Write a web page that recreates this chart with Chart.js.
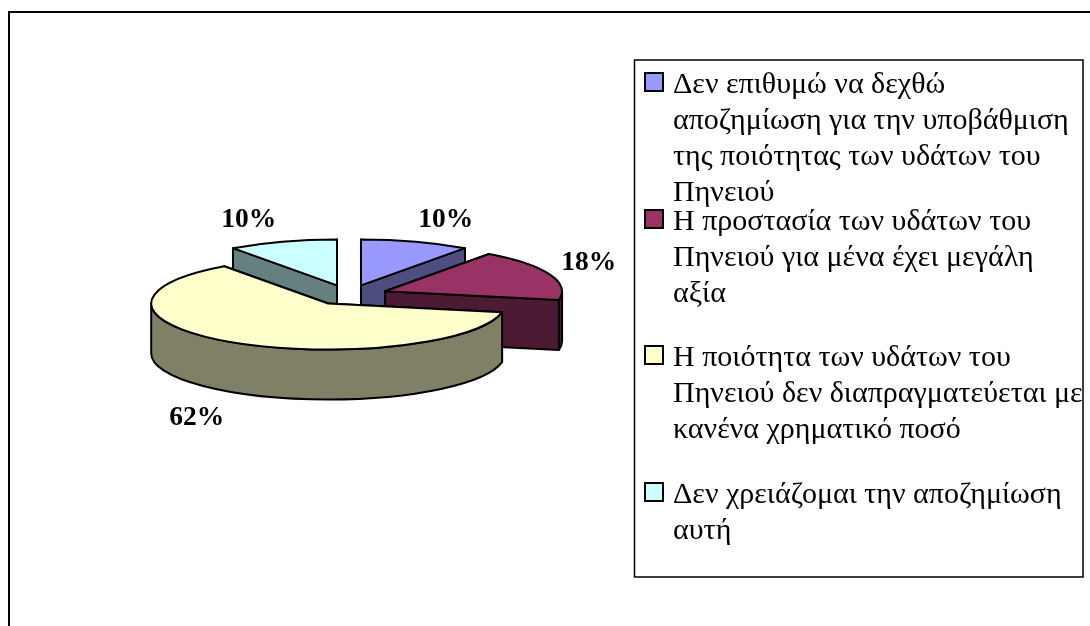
<!DOCTYPE html>
<html>
<head>
<meta charset="utf-8">
<style>html,body{margin:0;padding:0;background:#fff;overflow:hidden}canvas{display:block}</style>
<script src="https://cdn.jsdelivr.net/npm/chart.js@4"></script>
</head>
<body>
<canvas id="c" width="1090" height="626"></canvas>
<script>
const categoryLines = [
  ["Δεν επιθυμώ να δεχθώ", "αποζημίωση για την υποβάθμιση", "της ποιότητας των υδάτων του", "Πηνειού"],
  ["Η προστασία των υδάτων του", "Πηνειού για μένα έχει μεγάλη", "αξία"],
  ["Η ποιότητα των υδάτων του", "Πηνειού δεν διαπραγματεύεται με", "κανένα χρηματικό ποσό"],
  ["Δεν χρειάζομαι την αποζημίωση", "αυτή"]
];
const shares = [10, 18, 62, 10];
const topColors = ["#9999FF", "#993366", "#FFFFCC", "#CCFFFF"];
const sideColors = ["#4D4D80", "#4D1A33", "#808066", "#668080"];

const TILT = 0.26, DEPTH = 50, EXPLODE = 38.8, RADIUS = 177;
const labelNudge = [[30, -22], [39, -11], [-36.5, 26], [-33.5, -22]];
const legendBaselines = [93, 230, 366, 503];

const pie3d = {
  id: "pie3d",
  beforeDraw(chart) {
    const ctx = chart.ctx;
    ctx.save();
    ctx.fillStyle = "#fff";
    ctx.fillRect(0, 0, 1090, 626);
    ctx.strokeStyle = "#000";
    ctx.lineWidth = 2;
    ctx.beginPath();
    ctx.moveTo(9, 640); ctx.lineTo(9, 12); ctx.lineTo(1100, 12);
    ctx.stroke();
    ctx.restore();
  },
  beforeDatasetsDraw(chart) {
    const ctx = chart.ctx;
    const arcs = chart.getDatasetMeta(0).data;
    const items = arcs.map((arc, i) => {
      const mid = (arc.startAngle + arc.endAngle) / 2;
      return {
        arc, i, mid,
        ax: arc.x + Math.cos(mid) * EXPLODE,
        ay: arc.y + Math.sin(mid) * EXPLODE * TILT
      };
    }).sort((a, b) => Math.sin(a.mid) - Math.sin(b.mid));

    items.forEach(({arc, i, ax, ay}) => {
      const rx = arc.outerRadius, ry = rx * TILT;
      const s = arc.startAngle, e = arc.endAngle;
      const pt = a => [ax + Math.cos(a) * rx, ay + Math.sin(a) * ry];
      ctx.save();
      ctx.lineWidth = 2;
      ctx.lineJoin = "round";
      ctx.strokeStyle = "#000";
      ctx.fillStyle = sideColors[i];
      [s, e].forEach(a => {
        const [x, y] = pt(a);
        ctx.beginPath();
        ctx.moveTo(ax, ay); ctx.lineTo(x, y);
        ctx.lineTo(x, y + DEPTH); ctx.lineTo(ax, ay + DEPTH);
        ctx.closePath();
        ctx.fill(); ctx.stroke();
      });
      // outer wall: only the part of the rim that faces the viewer
      const TAU = Math.PI * 2;
      for (let k = -1; k <= 1; k++) {
        const w0 = Math.max(s, k * TAU), w1 = Math.min(e, k * TAU + Math.PI);
        if (w1 <= w0) continue;
        ctx.beginPath();
        ctx.ellipse(ax, ay, rx, ry, 0, w0, w1, false);
        ctx.ellipse(ax, ay + DEPTH, rx, ry, 0, w1, w0, true);
        ctx.closePath();
        ctx.fill(); ctx.stroke();
      }
      ctx.restore();

      // top face: the library's own arc element, squashed into the tilt
      ctx.save();
      ctx.translate(ax, ay);
      ctx.scale(1, TILT);
      ctx.translate(-arc.x, -arc.y);
      arc.draw(ctx);
      ctx.restore();

      ctx.save();
      ctx.lineWidth = 2;
      ctx.lineJoin = "round";
      ctx.strokeStyle = "#000";
      ctx.beginPath();
      ctx.moveTo(ax, ay);
      ctx.ellipse(ax, ay, rx, ry, 0, s, e, false);
      ctx.closePath();
      ctx.stroke();
      ctx.restore();
    });

    // percentage labels
    ctx.save();
    ctx.fillStyle = "#000";
    ctx.font = "bold 27.5px 'Liberation Serif'";
    ctx.textAlign = "center";
    ctx.textBaseline = "middle";
    const total = shares.reduce((a, b) => a + b, 0);
    items.forEach(({arc, i, mid, ax, ay}) => {
      const rx = arc.outerRadius, ry = rx * TILT;
      const wall = Math.sin(mid) > 0 ? DEPTH : 0;
      const x = ax + Math.cos(mid) * rx + labelNudge[i][0];
      const y = ay + Math.sin(mid) * ry + wall + labelNudge[i][1];
      ctx.fillText(Math.round(shares[i] / total * 100) + "%", x, y);
    });
    ctx.restore();

    // legend box
    ctx.save();
    ctx.strokeStyle = "#000";
    ctx.lineWidth = 1.5;
    ctx.strokeRect(634.5, 60, 448.5, 517);
    ctx.font = "30px 'Liberation Serif'";
    ctx.textAlign = "left";
    ctx.textBaseline = "alphabetic";
    categoryLines.forEach((lines, i) => {
      const b = legendBaselines[i];
      ctx.fillStyle = topColors[i];
      ctx.strokeStyle = "#000";
      ctx.lineWidth = 2;
      ctx.fillRect(645, b - 20, 18, 18);
      ctx.strokeRect(645, b - 20, 18, 18);
      ctx.fillStyle = "#000";
      lines.forEach((t, j) => ctx.fillText(t, 673, b + j * 36));
    });
    ctx.restore();
    return false;
  }
};

new Chart(document.getElementById("c"), {
  type: "pie",
  data: {
    labels: categoryLines.map(l => l.join(" ")),
    datasets: [{
      data: shares,
      backgroundColor: topColors,
      borderWidth: 0,
      radius: RADIUS
    }]
  },
  options: {
    responsive: false,
    animation: false,
    layout: { padding: { left: 149, right: 541, top: 95, bottom: 131 } },
    plugins: { legend: { display: false }, tooltip: { enabled: false } }
  },
  plugins: [pie3d]
});
</script>
</body>
</html>
